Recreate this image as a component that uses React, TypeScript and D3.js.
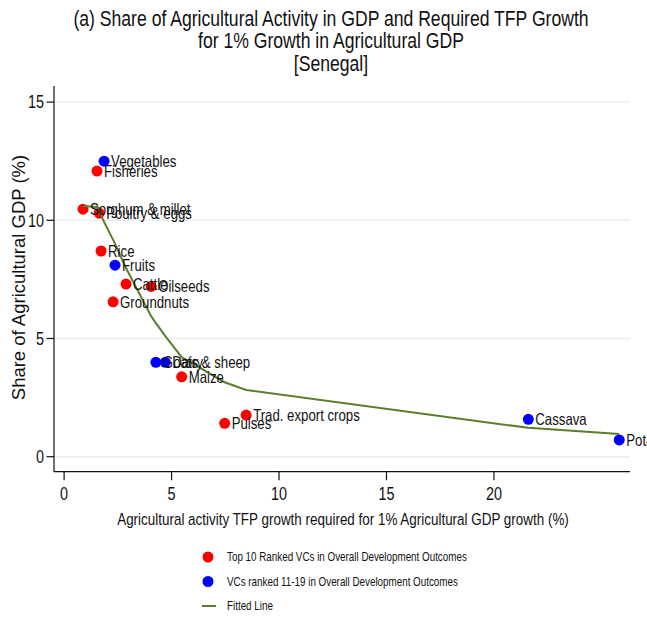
import React from "react";
import * as d3 from "d3";

// Value chains: required TFP growth (x, %) and share of agricultural GDP (y, %)
const chains = [
  "Vegetables", "Fisheries", "Sorghum & millet", "Poultry & eggs", "Rice", "Fruits",
  "Cattle", "Oilseeds", "Groundnuts", "Goats & sheep", "Dairy", "Maize", "Pulses",
  "Trad. export crops", "Cassava", "Potatoes",
];
const tfpGrowth = [1.86, 1.53, 0.88, 1.63, 1.72, 2.37, 2.88, 4.05, 2.28, 4.27, 4.71, 5.47, 7.47, 8.47, 21.6, 25.83];
const agShare = [12.5, 12.08, 10.47, 10.3, 8.7, 8.1, 7.3, 7.2, 6.55, 3.99, 3.99, 3.38, 1.41, 1.76, 1.58, 0.71];
// 1 = top 10 ranked, 2 = ranked 11-19
const rankGroup = [2, 1, 1, 1, 1, 2, 1, 1, 1, 2, 2, 1, 1, 1, 2, 2];

// Fitted line, evaluated at the sorted TFP values
const fitX = [0.88, 1.53, 1.63, 1.72, 1.86, 2.28, 2.37, 2.88, 4.05, 4.27, 4.71, 5.47, 7.47, 8.47, 21.6, 25.83];
const fitY = [10.6, 10.56, 10.52, 10.22, 9.93, 9.17, 9.0, 7.98, 5.94, 5.65, 5.1, 4.21, 3.15, 2.82, 1.22, 0.96];

const xTicks = [0, 5, 10, 15, 20];
const yTicks = [0, 5, 10, 15];

const titleLines = [
  "(a) Share of Agricultural Activity in GDP and Required TFP Growth",
  "for 1% Growth in Agricultural GDP",
  "[Senegal]",
];
const legendItems = [
  { label: "Top 10 Ranked VCs in Overall Development Outcomes", kind: "dot", color: "#ff0000" },
  { label: "VCs ranked 11-19 in Overall Development Outcomes", kind: "dot", color: "#0000ff" },
  { label: "Fitted Line", kind: "line", color: "#5a7d2e" },
];

const W = 647;
const H = 618;
const SANS = "'Liberation Sans', Arial, sans-serif";
const CONDENSE = 0.8;

// Horizontally condensed text, anchored at (x, y)
function NText({
  x,
  y,
  size,
  anchor = "start",
  children,
}: {
  x: number;
  y: number;
  size: number;
  anchor?: "start" | "middle" | "end";
  children: React.ReactNode;
}) {
  return (
    <g transform={`translate(${x},${y}) scale(${CONDENSE},1)`}>
      <text textAnchor={anchor} dy="0.35em" fontFamily={SANS} fontSize={size} fill="#111">
        {children}
      </text>
    </g>
  );
}

export default function App() {
  const x = d3.scaleLinear().domain([-0.47, 26.33]).range([54, 630]);
  const y = d3.scaleLinear().domain([-0.635, 15.68]).range([471.7, 86]);
  const [x0, x1] = x.range();
  const [y0, y1] = y.range();

  const groupColor = (g: number) => (g === 1 ? "#ff0000" : "#0000ff");

  const line = d3
    .line<number>()
    .x((_, i) => x(fitX[i]))
    .y((d) => y(d));

  return (
    <svg
      width={W}
      height={H}
      style={{ position: "absolute", left: 0, top: 0, background: "#fff", overflow: "hidden" }}
    >
      <rect width={W} height={H} fill="#fff" />
      {titleLines.map((t, i) => (
        <NText key={t} x={331} y={18 + i * 22.5} size={22} anchor="middle">
          {t}
        </NText>
      ))}

      {/* gridlines */}
      {yTicks.map((t) => (
        <line key={"g" + t} x1={x0} x2={x1} y1={y(t)} y2={y(t)} stroke="#e8eff2" strokeWidth={1.5} />
      ))}

      {/* axes */}
      <line x1={x0} x2={x0} y1={y0} y2={y1} stroke="#111" strokeWidth={1.2} />
      <line x1={x0} x2={x1} y1={y0} y2={y0} stroke="#111" strokeWidth={1.2} />
      {yTicks.map((t) => (
        <g key={"yt" + t}>
          <line x1={x0 - 7.5} x2={x0} y1={y(t)} y2={y(t)} stroke="#111" strokeWidth={1.2} />
          <NText x={x0 - 10} y={y(t)} size={18} anchor="end">
            {t}
          </NText>
        </g>
      ))}
      {xTicks.map((t) => (
        <g key={"xt" + t}>
          <line x1={x(t)} x2={x(t)} y1={y0} y2={y0 + 8.5} stroke="#111" strokeWidth={1.2} />
          <NText x={x(t)} y={y0 + 22} size={18} anchor="middle">
            {t}
          </NText>
        </g>
      ))}

      <text
        transform={`translate(25,${277.5}) rotate(-90)`}
        textAnchor="middle"
        fontFamily={SANS}
        fontSize={18.5}
        fill="#111"
      >
        Share of Agricultural GDP (%)
      </text>
      <NText x={343} y={519} size={16.8} anchor="middle">
        Agricultural activity TFP growth required for 1% Agricultural GDP growth (%)
      </NText>

      {/* points */}
      {chains.map((c, i) => (
        <circle
          key={"p" + c}
          cx={x(tfpGrowth[i])}
          cy={y(agShare[i])}
          r={5.5}
          fill={groupColor(rankGroup[i])}
        />
      ))}

      {/* fitted line */}
      <path d={line(fitY) ?? ""} fill="none" stroke="#5a7d2e" strokeWidth={2} />

      {/* point labels */}
      {chains.map((c, i) => (
        <NText key={"l" + c} x={x(tfpGrowth[i]) + 7} y={y(agShare[i])} size={16.5}>
          {c}
        </NText>
      ))}

      {/* legend */}
      {legendItems.map((it, i) => {
        const ly = 557 + i * 24.5;
        return (
          <g key={it.label}>
            {it.kind === "dot" ? (
              <circle cx={208} cy={ly} r={5.5} fill={it.color} />
            ) : (
              <line x1={202} x2={216} y1={ly} y2={ly} stroke={it.color} strokeWidth={2} />
            )}
            <NText x={227} y={ly} size={12.3}>
              {it.label}
            </NText>
          </g>
        );
      })}
    </svg>
  );
}
